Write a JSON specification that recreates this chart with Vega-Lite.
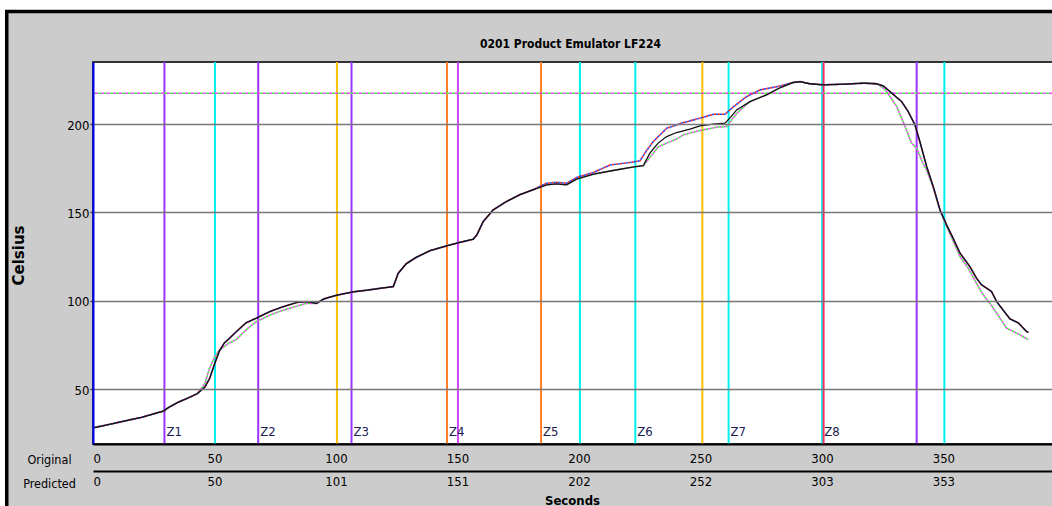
{
  "$schema": "https://vega.github.io/schema/vega-lite/v6.json",
  "width": 959,
  "height": 382,
  "autosize": {"type": "none"},
  "padding": {"left": 93, "top": 62, "right": 0, "bottom": 62},
  "background": "white",
  "config": {
    "view": {"stroke": null},
    "font": "Liberation Sans Narrow, DejaVu Sans Condensed, sans-serif"
  },
  "datasets": {
    "curves": [
      {"s":"M","t":0,"v":28},{"s":"M","t":5,"v":29.5},{"s":"M","t":10,"v":31},{"s":"M","t":15,"v":32.5},{"s":"M","t":20,"v":34},{"s":"M","t":25,"v":36},{"s":"M","t":29,"v":37.5},{"s":"M","t":31,"v":39.5},{"s":"M","t":35,"v":42.5},{"s":"M","t":40,"v":45.5},{"s":"M","t":43,"v":47.5},{"s":"M","t":46,"v":51},{"s":"M","t":48,"v":56},{"s":"M","t":50,"v":64},{"s":"M","t":52,"v":71.5},{"s":"M","t":54,"v":76},{"s":"M","t":56,"v":78.5},{"s":"M","t":59,"v":82.5},{"s":"M","t":63,"v":87.5},{"s":"M","t":67,"v":90},{"s":"M","t":70,"v":92},{"s":"M","t":73,"v":94},{"s":"M","t":78,"v":96.5},{"s":"M","t":84,"v":99},{"s":"M","t":88,"v":99.5},{"s":"M","t":92,"v":98.5},{"s":"M","t":95,"v":101},{"s":"M","t":100,"v":103},{"s":"M","t":107,"v":105},{"s":"M","t":113,"v":106},{"s":"M","t":118,"v":107},{"s":"M","t":123.6,"v":108},{"s":"M","t":125.6,"v":115.5},{"s":"M","t":129,"v":121},{"s":"M","t":133,"v":124.5},{"s":"M","t":138.7,"v":128.3},{"s":"M","t":145.5,"v":131},{"s":"M","t":151,"v":133},{"s":"M","t":156.5,"v":134.8},{"s":"M","t":158,"v":137.3},{"s":"M","t":160.6,"v":144.8},{"s":"M","t":164.7,"v":151.4},{"s":"M","t":170,"v":156},{"s":"M","t":175.7,"v":160},{"s":"M","t":181,"v":162.7},{"s":"M","t":186.7,"v":165.6},{"s":"M","t":190.8,"v":166.1},{"s":"M","t":194.9,"v":165.6},{"s":"M","t":199,"v":168.8},{"s":"M","t":206,"v":171.6},{"s":"M","t":214,"v":173.7},{"s":"M","t":222,"v":175.6},{"s":"M","t":226.5,"v":176.5},{"s":"M","t":229.2,"v":183.5},{"s":"M","t":232.6,"v":189.2},{"s":"M","t":236.1,"v":192.9},{"s":"M","t":240.2,"v":195.2},{"s":"M","t":245.7,"v":197.1},{"s":"M","t":249.8,"v":199},{"s":"M","t":255.3,"v":199.9},{"s":"M","t":260.1,"v":200.5},{"s":"M","t":262.1,"v":203.3},{"s":"M","t":264.9,"v":208},{"s":"M","t":270.4,"v":212.7},{"s":"M","t":277.2,"v":216.5},{"s":"M","t":282.7,"v":220.5},{"s":"M","t":288.2,"v":223.5},{"s":"M","t":291,"v":224},{"s":"M","t":295,"v":222.8},{"s":"M","t":300.5,"v":222.2},{"s":"M","t":310,"v":222.6},{"s":"M","t":317,"v":223.1},{"s":"M","t":322.5,"v":222.8},{"s":"M","t":325.2,"v":221.6},{"s":"M","t":328,"v":218.4},{"s":"M","t":330,"v":216},{"s":"M","t":332.8,"v":212.7},{"s":"M","t":335.5,"v":207.1},{"s":"M","t":338.3,"v":199.5},{"s":"M","t":340.3,"v":190.1},{"s":"M","t":343.1,"v":176},{"s":"M","t":345.8,"v":164.7},{"s":"M","t":348.6,"v":151.4},{"s":"M","t":351.3,"v":143},{"s":"M","t":354,"v":135.4},{"s":"M","t":356.8,"v":127},{"s":"M","t":360.9,"v":119.3},{"s":"M","t":363.6,"v":112.8},{"s":"M","t":365.7,"v":109},{"s":"M","t":369.8,"v":105.2},{"s":"M","t":371.9,"v":99.5},{"s":"M","t":377.4,"v":89.7},{"s":"M","t":380.8,"v":87.5},{"s":"M","t":384.2,"v":82.6},{"s":"M","t":385,"v":82},

      {"s":"A","t":0,"v":28},{"s":"A","t":5,"v":29.5},{"s":"A","t":10,"v":31},{"s":"A","t":15,"v":32.5},{"s":"A","t":20,"v":34},{"s":"A","t":25,"v":36},{"s":"A","t":29,"v":37.5},{"s":"A","t":31,"v":39.5},{"s":"A","t":35,"v":42.5},{"s":"A","t":40,"v":45.5},{"s":"A","t":43,"v":47.5},{"s":"A","t":46,"v":51},{"s":"A","t":48,"v":56},{"s":"A","t":50,"v":64},{"s":"A","t":52,"v":71.5},{"s":"A","t":54,"v":76},{"s":"A","t":56,"v":78.5},{"s":"A","t":59,"v":82.5},{"s":"A","t":63,"v":87.5},{"s":"A","t":67,"v":90},{"s":"A","t":70,"v":92},{"s":"A","t":73,"v":94},{"s":"A","t":78,"v":96.5},{"s":"A","t":84,"v":99},{"s":"A","t":88,"v":99.5},{"s":"A","t":92,"v":98.5},{"s":"A","t":95,"v":101},{"s":"A","t":100,"v":103},{"s":"A","t":107,"v":105},{"s":"A","t":113,"v":106},{"s":"A","t":118,"v":107},{"s":"A","t":123.6,"v":108},{"s":"A","t":125.6,"v":115.5},{"s":"A","t":129,"v":121},{"s":"A","t":133,"v":124.5},{"s":"A","t":138.7,"v":128.3},{"s":"A","t":145.5,"v":131},{"s":"A","t":151,"v":133},{"s":"A","t":156.5,"v":134.8},{"s":"A","t":158,"v":137.3},{"s":"A","t":160.6,"v":144.8},{"s":"A","t":164.7,"v":151.4},{"s":"A","t":170,"v":156},{"s":"A","t":175.7,"v":160},{"s":"A","t":181,"v":162.7},{"s":"A","t":186.7,"v":166.5},{"s":"A","t":190.8,"v":167},{"s":"A","t":194.9,"v":166.5},{"s":"A","t":199,"v":169.8},{"s":"A","t":206,"v":172.6},{"s":"A","t":212.8,"v":176.8},{"s":"A","t":221,"v":178.2},{"s":"A","t":225.1,"v":179.2},{"s":"A","t":227.8,"v":184.9},{"s":"A","t":230.6,"v":190.1},{"s":"A","t":236.1,"v":197.6},{"s":"A","t":243,"v":200.8},{"s":"A","t":249.8,"v":203.3},{"s":"A","t":255.3,"v":205.5},{"s":"A","t":260.1,"v":205.5},{"s":"A","t":263.6,"v":209.8},{"s":"A","t":269,"v":215.5},{"s":"A","t":274.5,"v":219.3},{"s":"A","t":282.7,"v":221.5},{"s":"A","t":288.2,"v":223.5},{"s":"A","t":291,"v":224},{"s":"A","t":295,"v":222.8},{"s":"A","t":300.5,"v":222.2},{"s":"A","t":310,"v":222.6},{"s":"A","t":317,"v":223.1},{"s":"A","t":322.5,"v":222.8},{"s":"A","t":325.2,"v":221.6},{"s":"A","t":328,"v":218.4},{"s":"A","t":330,"v":216},{"s":"A","t":332.8,"v":212.7},{"s":"A","t":335.5,"v":207.1},{"s":"A","t":338.3,"v":199.5},{"s":"A","t":340.3,"v":190.1},{"s":"A","t":343.1,"v":176},{"s":"A","t":345.8,"v":164.7},{"s":"A","t":348.6,"v":151.4},{"s":"A","t":351.3,"v":143},{"s":"A","t":354,"v":135.4},{"s":"A","t":356.8,"v":127},{"s":"A","t":360.9,"v":119.3},{"s":"A","t":363.6,"v":112.8},{"s":"A","t":365.7,"v":109},{"s":"A","t":369.8,"v":105.2},{"s":"A","t":371.9,"v":99.5},{"s":"A","t":377.4,"v":89.7},{"s":"A","t":380.8,"v":87.5},{"s":"A","t":384.2,"v":82.6},{"s":"A","t":385,"v":82},

      {"s":"B","t":0,"v":28},{"s":"B","t":5,"v":29.5},{"s":"B","t":10,"v":31},{"s":"B","t":15,"v":32.5},{"s":"B","t":20,"v":34},{"s":"B","t":25,"v":36},{"s":"B","t":29,"v":37.5},{"s":"B","t":31,"v":39.5},{"s":"B","t":35,"v":42.5},{"s":"B","t":40,"v":45.5},{"s":"B","t":43,"v":47.5},{"s":"B","t":46,"v":53},{"s":"B","t":48,"v":62},{"s":"B","t":50,"v":68},{"s":"B","t":52,"v":72},{"s":"B","t":54,"v":74},{"s":"B","t":56,"v":76},{"s":"B","t":59,"v":78},{"s":"B","t":63,"v":83.5},{"s":"B","t":67,"v":88},{"s":"B","t":73,"v":92},{"s":"B","t":78,"v":94.5},{"s":"B","t":84,"v":97},{"s":"B","t":88,"v":98.5},{"s":"B","t":92,"v":98.5},{"s":"B","t":95,"v":101},{"s":"B","t":100,"v":103},{"s":"B","t":107,"v":105},{"s":"B","t":113,"v":106},{"s":"B","t":118,"v":107},{"s":"B","t":123.6,"v":108},{"s":"B","t":125.6,"v":115.5},{"s":"B","t":129,"v":121},{"s":"B","t":133,"v":124.5},{"s":"B","t":138.7,"v":128.3},{"s":"B","t":145.5,"v":131},{"s":"B","t":151,"v":133},{"s":"B","t":156.5,"v":134.8},{"s":"B","t":158,"v":137.3},{"s":"B","t":160.6,"v":144.8},{"s":"B","t":164.7,"v":151.4},{"s":"B","t":170,"v":156},{"s":"B","t":175.7,"v":160},{"s":"B","t":181,"v":162.7},{"s":"B","t":186.7,"v":165.6},{"s":"B","t":190.8,"v":166.1},{"s":"B","t":194.9,"v":165.6},{"s":"B","t":199,"v":168.8},{"s":"B","t":206,"v":171.6},{"s":"B","t":214,"v":173.7},{"s":"B","t":222,"v":175.6},{"s":"B","t":226.5,"v":176.5},{"s":"B","t":229.2,"v":181},{"s":"B","t":232.6,"v":187},{"s":"B","t":236.1,"v":189.2},{"s":"B","t":240.2,"v":191.5},{"s":"B","t":243,"v":193.9},{"s":"B","t":249.8,"v":196.3},{"s":"B","t":256.7,"v":198.2},{"s":"B","t":260.8,"v":198.6},{"s":"B","t":262.1,"v":201},{"s":"B","t":264.9,"v":206},{"s":"B","t":270.4,"v":212.7},{"s":"B","t":277.2,"v":216.5},{"s":"B","t":282.7,"v":220.5},{"s":"B","t":288.2,"v":223.5},{"s":"B","t":291,"v":224},{"s":"B","t":295,"v":222.8},{"s":"B","t":300.5,"v":222.2},{"s":"B","t":310,"v":222.6},{"s":"B","t":317,"v":223.1},{"s":"B","t":322.5,"v":222.8},{"s":"B","t":325.2,"v":220.5},{"s":"B","t":326.6,"v":218.4},{"s":"B","t":330.7,"v":210.1},{"s":"B","t":334.2,"v":198.6},{"s":"B","t":336.9,"v":189.2},{"s":"B","t":339,"v":186.3},{"s":"B","t":341.5,"v":178},{"s":"B","t":343.1,"v":174},{"s":"B","t":345.8,"v":164},{"s":"B","t":348.6,"v":151},{"s":"B","t":351.3,"v":142},{"s":"B","t":354,"v":134},{"s":"B","t":356.8,"v":125},{"s":"B","t":360.2,"v":118.4},{"s":"B","t":363.6,"v":109.9},{"s":"B","t":366.4,"v":103.3},{"s":"B","t":369.1,"v":98.6},{"s":"B","t":371.9,"v":93},{"s":"B","t":376,"v":84.5},{"s":"B","t":381.5,"v":80.7},{"s":"B","t":384.9,"v":77.9}
    ],
    "vlines": [
      {"t":29.4,"k":"a"},{"t":50.2,"k":"b"},{"t":68,"k":"a"},{"t":100.4,"k":"d"},{"t":106.4,"k":"a"},{"t":145.7,"k":"c"},{"t":150.2,"k":"e"},{"t":184.4,"k":"c"},{"t":200.4,"k":"b"},{"t":223.2,"k":"b"},{"t":250.8,"k":"d"},{"t":261.6,"k":"b"},{"t":300.1,"k":"b"},{"t":300.7,"k":"f"},{"t":339,"k":"a"},{"t":350.4,"k":"b"}
    ],
    "zones": [
      {"z":"Z1","t":29.4},{"z":"Z2","t":68},{"z":"Z3","t":106.4},{"z":"Z4","t":145.7},{"z":"Z5","t":184.4},{"z":"Z6","t":223.2},{"z":"Z7","t":261.6},{"z":"Z8","t":300.1}
    ]
  },
  "resolve": {"axis": {"x": "independent", "y": "independent"}},
  "layer": [
    {
      "data": {"values": [{}]},
      "mark": {"type": "rect", "fill": "#cccccc", "stroke": "black", "strokeWidth": 3.5},
      "encoding": {
        "x": {"datum": -35.5, "type": "quantitative", "axis": null, "scale": {"domain": [0, 394.7], "nice": false, "zero": false}},
        "x2": {"datum": 600},
        "y": {"datum": 263.7, "type": "quantitative", "axis": null, "scale": {"domain": [18.9, 235.1], "nice": false, "zero": false}},
        "y2": {"datum": -100}
      }
    },
    {
      "data": {"values": [{"title": "0201 Product Emulator LF224"}]},
      "mark": {"type": "text", "align": "center", "baseline": "middle", "fontSize": 12, "fontWeight": "bold", "color": "black", "font": "Liberation Sans Narrow, DejaVu Sans Condensed, sans-serif"},
      "encoding": {
        "x": {"datum": 196.5, "type": "quantitative", "axis": null, "scale": {"domain": [0, 394.7], "nice": false, "zero": false}},
        "y": {"datum": 245.3, "type": "quantitative", "axis": null, "scale": {"domain": [18.9, 235.1], "nice": false, "zero": false}},
        "text": {"field": "title", "type": "nominal"}
      }
    },
    {
      "data": {"values": [{}]},
      "mark": {"type": "rect", "fill": "white", "stroke": "#333333", "strokeWidth": 2},
      "encoding": {
        "x": {"datum": 0, "type": "quantitative", "axis": null, "scale": {"domain": [0, 394.7], "nice": false, "zero": false}},
        "x2": {"datum": 430},
        "y": {"datum": 235.1, "type": "quantitative", "axis": null, "scale": {"domain": [18.9, 235.1], "nice": false, "zero": false}},
        "y2": {"datum": 18.9}
      }
    },
    {
      "data": {"name": "vlines"},
      "mark": {"type": "rule", "strokeWidth": 2},
      "encoding": {
        "x": {
          "field": "t", "type": "quantitative",
          "scale": {"domain": [0, 394.7], "nice": false, "zero": false},
          "axis": {
            "orient": "bottom", "offset": 27, "zindex": 2,
            "values": [0, 50, 100, 150, 200, 250, 300, 350],
            "labelExpr": "['0','50','101','151','202','252','303','353'][round(datum.value/50)]",
            "grid": false, "ticks": false, "tickSize": 0,
            "domain": true, "domainColor": "black", "domainWidth": 2,
            "labelFont": "Liberation Sans Narrow, DejaVu Sans Condensed, sans-serif",
            "labelFontSize": 13, "labelColor": "black", "labelPadding": 4, "labelFlush": true,
            "title": "Predicted", "titleFont": "Liberation Sans Narrow, DejaVu Sans Condensed, sans-serif",
            "titleFontSize": 12.5, "titleFontWeight": "normal", "titleColor": "black",
            "titleX": -44, "titleY": 12, "titleAlign": "center", "titleBaseline": "middle", "titleAngle": 0
          }
        },
        "color": {
          "field": "k", "type": "nominal", "legend": null,
          "scale": {"domain": ["a", "b", "c", "d", "e", "f"], "range": ["#9933ff", "#00f0f0", "#ff7f27", "#ffbf00", "#cc44ff", "#ff3060"]}
        }
      }
    },
    {
      "data": {"values": [{}]},
      "mark": {"type": "rule", "stroke": "#ee44ee", "strokeWidth": 1.5, "strokeDash": [3, 3]},
      "encoding": {
        "y": {"datum": 217.4, "type": "quantitative", "axis": null, "scale": {"domain": [18.9, 235.1], "nice": false, "zero": false}}
      }
    },
    {
      "data": {"values": [{}]},
      "mark": {"type": "rule", "stroke": "#55ee55", "strokeWidth": 1.5, "strokeDash": [3, 3], "strokeDashOffset": 3},
      "encoding": {
        "y": {"datum": 217.4, "type": "quantitative", "axis": null, "scale": {"domain": [18.9, 235.1], "nice": false, "zero": false}}
      }
    },
    {
      "data": {"name": "curves"},
      "transform": [{"filter": "datum.s == 'B'"}],
      "mark": {"type": "line", "stroke": "#ff44ff", "strokeWidth": 1.6, "strokeDash": [2, 2]},
      "encoding": {
        "x": {"field": "t", "type": "quantitative", "axis": null, "scale": {"domain": [0, 394.7], "nice": false, "zero": false}},
        "y": {"field": "v", "type": "quantitative", "axis": null, "scale": {"domain": [18.9, 235.1], "nice": false, "zero": false}}
      }
    },
    {
      "data": {"name": "curves"},
      "transform": [{"filter": "datum.s == 'B'"}],
      "mark": {"type": "line", "stroke": "#44ee44", "strokeWidth": 1.6, "strokeDash": [2, 2], "strokeDashOffset": 2},
      "encoding": {
        "x": {"field": "t", "type": "quantitative", "axis": null, "scale": {"domain": [0, 394.7], "nice": false, "zero": false}},
        "y": {"field": "v", "type": "quantitative", "axis": null, "scale": {"domain": [18.9, 235.1], "nice": false, "zero": false}}
      }
    },
    {
      "data": {"name": "curves"},
      "transform": [{"filter": "datum.s == 'A'"}],
      "mark": {"type": "line", "stroke": "#ff2222", "strokeWidth": 1.6, "strokeDash": [2, 2]},
      "encoding": {
        "x": {"field": "t", "type": "quantitative", "axis": null, "scale": {"domain": [0, 394.7], "nice": false, "zero": false}},
        "y": {"field": "v", "type": "quantitative", "axis": null, "scale": {"domain": [18.9, 235.1], "nice": false, "zero": false}}
      }
    },
    {
      "data": {"name": "curves"},
      "transform": [{"filter": "datum.s == 'A'"}],
      "mark": {"type": "line", "stroke": "#2244ff", "strokeWidth": 1.6, "strokeDash": [2, 2], "strokeDashOffset": 2},
      "encoding": {
        "x": {"field": "t", "type": "quantitative", "axis": null, "scale": {"domain": [0, 394.7], "nice": false, "zero": false}},
        "y": {"field": "v", "type": "quantitative", "axis": null, "scale": {"domain": [18.9, 235.1], "nice": false, "zero": false}}
      }
    },
    {
      "data": {"name": "curves"},
      "transform": [{"filter": "datum.s == 'M'"}],
      "mark": {"type": "line", "stroke": "#111111", "strokeWidth": 1.3},
      "encoding": {
        "x": {
          "field": "t", "type": "quantitative",
          "scale": {"domain": [0, 394.7], "nice": false, "zero": false},
          "axis": {
            "orient": "bottom", "offset": 0, "zindex": 2,
            "values": [0, 50, 100, 150, 200, 250, 300, 350],
            "grid": false, "ticks": false, "tickSize": 0,
            "domain": true, "domainColor": "black", "domainWidth": 2,
            "labelFont": "Liberation Sans Narrow, DejaVu Sans Condensed, sans-serif",
            "labelFontSize": 13, "labelColor": "black", "labelPadding": 8, "labelFlush": true,
            "title": "Original", "titleFont": "Liberation Sans Narrow, DejaVu Sans Condensed, sans-serif",
            "titleFontSize": 12.5, "titleFontWeight": "normal", "titleColor": "black",
            "titleX": -44, "titleY": 15, "titleAlign": "center", "titleBaseline": "middle", "titleAngle": 0
          }
        },
        "y": {
          "field": "v", "type": "quantitative",
          "scale": {"domain": [18.9, 235.1], "nice": false, "zero": false},
          "axis": {
            "orient": "left", "zindex": 1,
            "values": [50, 100, 150, 200],
            "grid": true, "gridColor": "#777777", "gridWidth": 1.5,
            "ticks": true, "tickSize": 3, "tickColor": "#333333", "tickWidth": 1.5,
            "domain": true, "domainColor": "#0000ff", "domainWidth": 2,
            "labelFont": "Liberation Sans Narrow, DejaVu Sans Condensed, sans-serif",
            "labelFontSize": 13, "labelColor": "black", "labelPadding": 1, "labelOffset": 1,
            "title": "Celsius", "titleFont": "DejaVu Sans", "titleFontSize": 15, "titleFontWeight": "bold",
            "titleColor": "black", "titleX": -75, "titleY": 193, "titleAlign": "center", "titleBaseline": "middle", "titleAngle": -90
          }
        }
      }
    },
    {
      "data": {"name": "zones"},
      "mark": {"type": "text", "align": "left", "baseline": "middle", "dx": 2, "fontSize": 13, "color": "#202050", "font": "Liberation Sans Narrow, DejaVu Sans Condensed, sans-serif"},
      "encoding": {
        "x": {
          "field": "t", "type": "quantitative",
          "scale": {"domain": [0, 394.7], "nice": false, "zero": false},
          "axis": {
            "orient": "bottom", "offset": 0, "zindex": 2,
            "labels": false, "ticks": false, "tickSize": 0, "domain": false, "grid": false,
            "title": "Seconds", "titleFont": "Liberation Sans Narrow, DejaVu Sans Condensed, sans-serif",
            "titleFontSize": 13, "titleFontWeight": "bold", "titleColor": "black",
            "titleX": 479, "titleY": 56, "titleAlign": "center", "titleBaseline": "middle", "titleAngle": 0
          }
        },
        "y": {"datum": 25.7, "type": "quantitative", "axis": null, "scale": {"domain": [18.9, 235.1], "nice": false, "zero": false}},
        "text": {"field": "z", "type": "nominal"}
      }
    }
  ]
}
